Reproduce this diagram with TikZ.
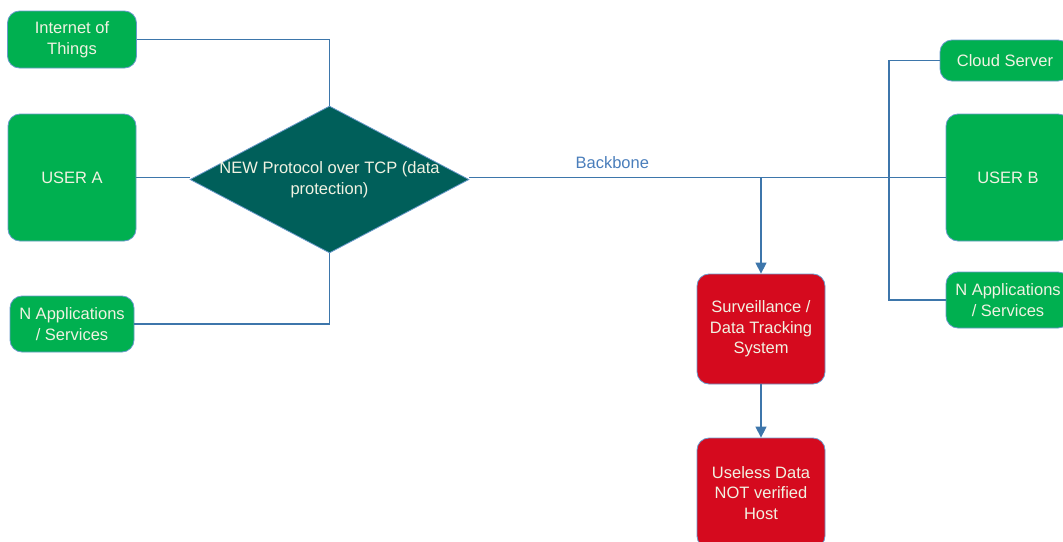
\documentclass[tikz,border=0pt]{standalone}
\usepackage{fontspec}
\setmainfont{Liberation Sans}
\usetikzlibrary{positioning,shapes.geometric,arrows.meta}

\definecolor{boxgreen}{HTML}{00B050}
\definecolor{boxteal}{HTML}{005F5A}
\definecolor{boxred}{HTML}{D50A1E}
\definecolor{linkblue}{HTML}{3D76AB}
\definecolor{edgeblue}{HTML}{6A9ACB}
\definecolor{boxtext}{HTML}{F1F2E2}
\definecolor{labelblue}{HTML}{4A7EBB}

\begin{document}
\begin{tikzpicture}[x=1pt,y=1pt,on grid,
    font=\fontsize{16.5}{20.5}\selectfont,
    box/.style={rectangle,rounded corners=12pt,draw=edgeblue,line width=0.8pt,
      text=boxtext,align=center,inner sep=0pt},
    host/.style={box,fill=boxgreen,minimum width=128pt},
    tracker/.style={box,fill=boxred,minimum width=128pt,minimum height=110pt},
    protocol/.style={diamond,fill=boxteal,draw=edgeblue,line width=0.8pt,
      text=boxtext,align=center,inner sep=0pt,inner xsep=-12pt,shape aspect=1.9,
      minimum width=279pt,minimum height=147pt},
    link/.style={draw=linkblue,line width=1.3pt},
    flow/.style={link,-{Triangle[width=11pt,length=11pt]}}]
    \clip (0,0) rectangle (1063,-541);
    \node[host,minimum height=127pt] (user_a) at (72,-177.5) {USER A};
    \node[host,minimum width=129pt,minimum height=57pt] (iot) [above=138pt of user_a] {Internet of\\Things};
    \node[host,minimum width=124pt,minimum height=56pt] (apps_a) [below=146.5pt of user_a] {N Applications\\/ Services};
    \node[protocol] (proto) [right=257.5pt of user_a,yshift=-2pt] {NEW Protocol over TCP (data\\protection)};
    \node[host,minimum width=124pt,minimum height=127pt] (user_b) [right=936pt of user_a] {USER B};
    \node[host,minimum width=130pt,minimum height=41pt] (cloud) [above=117pt of user_b,xshift=-3pt] {Cloud Server};
    \node[host,minimum width=124pt,minimum height=56pt] (apps_b) [below=122.5pt of user_b] {N Applications\\/ Services};
    \node[tracker] (surv) [below left=151.5pt and 247pt of user_b] {Surveillance /\\Data Tracking\\System};
    \node[tracker] (useless) [below=164pt of surv] {Useless Data\\NOT verified\\Host};
    \coordinate (tap) at (surv |- user_b);
    \coordinate[left=119pt of user_b] (bus);
    \path[link]
    % left side
    (iot.east) -| (proto.north)
    (apps_a.east) -| (proto.south)
    (user_a) -- (user_a -| proto.west)
    % backbone
    (user_b -| proto.east) -- node[pos=0.3,above=5pt,text=labelblue] {Backbone} (user_b)
    % right side
    (cloud.west) -| (bus) |- (apps_b.west);
    % down to the tracker
    \draw[flow] (tap) -- (surv);
    \draw[flow] (surv) -- (useless);
\end{tikzpicture}
\end{document}
